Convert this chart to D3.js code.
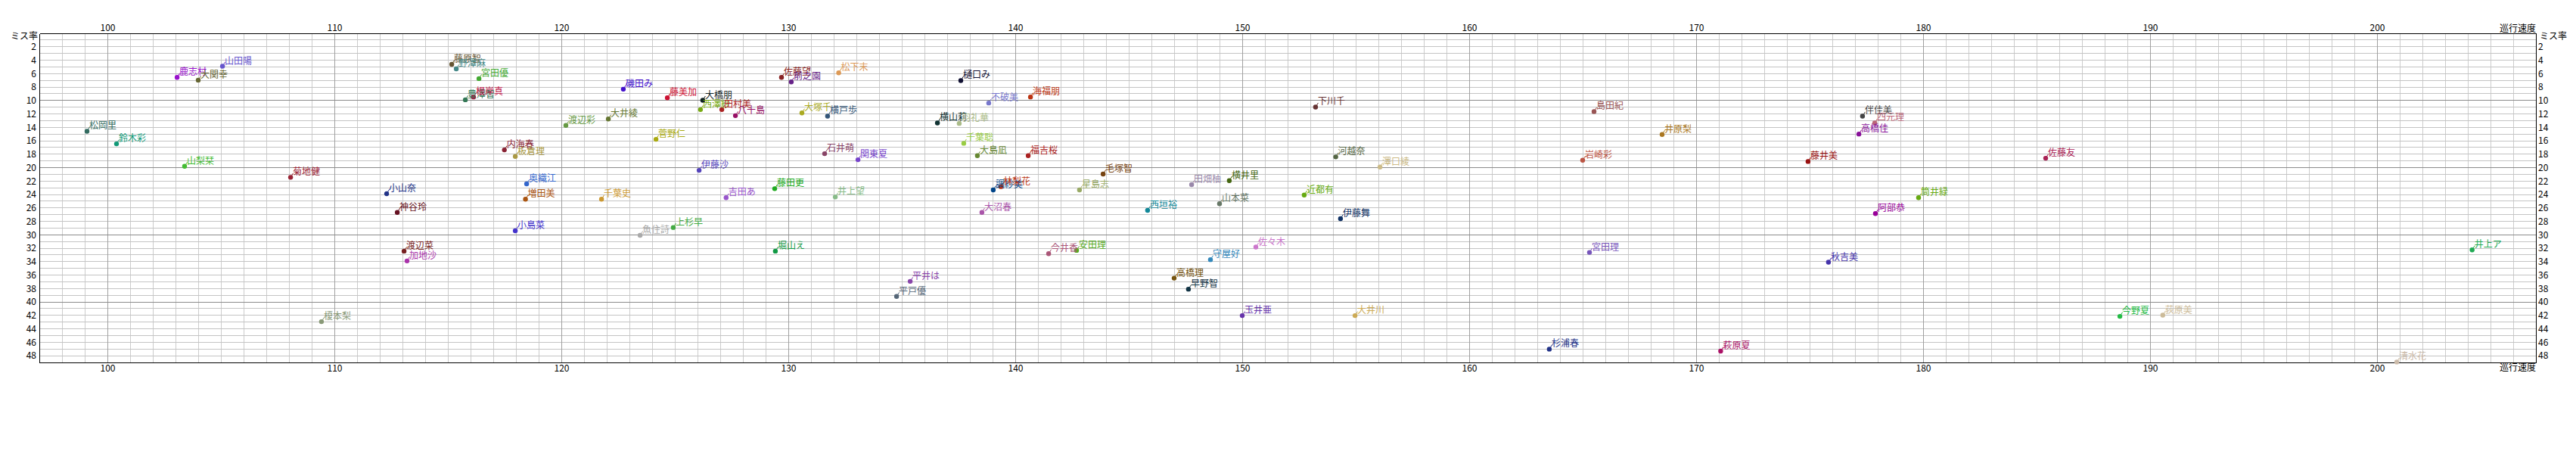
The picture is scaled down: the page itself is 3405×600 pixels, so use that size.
<!DOCTYPE html>
<html><head><meta charset="utf-8">
<script src="https://cdn.jsdelivr.net/npm/d3@7"></script>
<style>
body{margin:0;background:#fff}
text{font-family:"Noto Sans CJK JP","Noto Sans",sans-serif;font-size:12px}
</style>
</head><body>
<svg id="chart" width="3405" height="600"></svg>
<script>
const names = ["鹿志村","大関幸","松岡里","鈴木彩","山梨栞","山田陽","菊地健","小山奈","神谷玲","渡辺菜","加地沙","榎本梨",
"藤原智","野澤麻","宮田優","豊澤智","根岸真","磯田み","渡辺彩","大井綾","内海春","板倉理","奥織江","増田美","千葉史","小島菜","魚住詩",
"藤美加","大橋朋","西澤紗","田村美","八十島","佐藤望","前之園","松下末","大塚千","横戸歩","菅野仁","石井萌","関東夏","伊藤沙","藤田更","吉田あ","井上望","上杉早","堀山え",
"樋口み","海福朋","不破美","横山莉","羽礼華","千葉聡","大島凪","福吉桜","調紗美","林梨花","大沼春","今井香","安田理","平井は","平戸優",
"毛塚智","星島志","西垣裕","田畑柚","横井里","山本菜","佐々木","守屋好","高橋理","早野智","玉井亜",
"下川千","河越奈","澤口綾","近都有","伊藤舞","大井川",
"島田紀","井原梨","岩崎彩","宮田理","杉浦春",
"伴佳美","四元理","高橋佳","藤井美","筒井緑","阿部恭","秋吉美","萩原夏",
"佐藤友","今野夏","荻原美","井上ア","清水花"];
const speeds = [103.07,104.0,99.1,100.4,103.4,105.07,108.07,112.3,112.77,113.07,113.2,109.43,
115.17,115.37,116.37,115.77,116.13,122.73,120.2,122.07,117.49,117.97,118.47,118.42,121.77,117.97,123.47,
124.67,126.23,126.13,127.07,127.67,129.7,130.13,132.22,130.6,131.73,124.17,131.6,133.07,126.07,129.4,127.26,132.07,124.93,129.43,
137.6,140.67,138.83,136.57,137.53,137.73,138.33,140.57,139.03,139.37,138.53,141.47,142.7,135.37,134.77,
143.87,142.83,145.83,147.77,149.43,149.0,150.6,148.6,147.0,147.63,150.0,
153.23,154.12,156.07,152.73,154.33,154.97,
165.5,168.5,165.0,165.3,163.53,
177.33,177.87,177.17,174.93,179.8,177.9,175.83,171.08,
185.4,188.67,190.56,204.19,200.87];
const missRates = [6.56,6.97,14.58,16.46,19.8,4.9,21.44,23.88,26.66,32.43,33.89,42.93,
4.61,5.29,6.75,9.9,9.48,8.32,13.72,12.75,17.36,18.33,22.42,24.7,24.7,29.4,30.07,
9.6,9.97,11.36,11.36,12.26,6.56,7.23,5.88,11.85,12.33,15.78,17.92,18.82,20.4,23.13,24.48,24.37,28.91,32.43,
7.04,9.48,10.38,13.34,13.42,16.38,18.22,18.22,23.32,22.83,26.66,32.8,32.32,36.93,39.18,
20.96,23.32,26.36,22.53,21.93,25.38,31.83,33.7,36.45,38.09,42.03,
10.98,18.4,19.91,24.07,27.59,42.03,
11.65,15.07,18.9,32.62,47.02,
12.33,13.34,15.0,19.08,24.48,26.84,34.08,47.31,
18.6,42.14,41.96,32.24,48.93];
const xTicks = [100,110,120,130,140,150,160,170,180,190,200];
const yTicks = [2,4,6,8,10,12,14,16,18,20,22,24,26,28,30,32,34,36,38,40,42,44,46,48];
const xTitle = "巡行速度";
const yTitle = "ミス率";
const palette = ["#9911cc","#666633","#336b60","#119977","#44bb33","#6655cc","#992233","#223388","#661122","#772222","#aa33aa","#889977",
"#665533","#448888","#44aa33","#337755","#bb1144","#4411cc","#669944","#667733","#882233","#aa9944","#3366cc","#aa5511","#cc9933","#4433cc","#aaaaaa",
"#cc1133","#112222","#77aa11","#aa2222","#991166","#882222","#662288","#dd9955","#aaaa22","#335577","#aaaa11","#884466","#7744cc","#5544bb","#22aa22","#9955cc","#88bb88","#44aa44","#119944",
"#111133","#bb3311","#7777cc","#113333","#aabb88","#99cc44","#668833","#aa2222","#004488","#bb3311","#aa55aa","#aa5577","#55aa22","#8844aa","#556677",
"#774411","#99aa66","#118899","#9988aa","#446611","#667766","#cc77cc","#3388bb","#775511","#113344","#6633aa",
"#663333","#556644","#ccbb88","#66aa11","#113366","#ccaa55",
"#995555","#aa7722","#bb5544","#7755bb","#223388",
"#444444","#bb6677","#881199","#991111","#66aa11","#990099","#4433aa","#aa1166",
"#aa2255","#22bb44","#ccbb99","#22aa55","#ccbbaa"];

const svg = d3.select("#chart");
const L = 52, R = 3352, T = 44, B = 479;
const x = d3.scaleLinear().domain([97, 207]).range([L, R]);
const y = d3.scaleLinear().domain([0, 49]).range([T, B]);

const grid = svg.append("g").attr("shape-rendering", "crispEdges");
grid.selectAll(".vx").data(d3.range(98, 207)).join("line")
  .attr("x1", d => x(d)).attr("x2", d => x(d)).attr("y1", T).attr("y2", B)
  .attr("stroke", d => d % 10 === 0 ? "#a0a0a0" : "#cccccc").attr("stroke-width", 1);
grid.selectAll(".hy").data(d3.range(1, 49)).join("line")
  .attr("y1", d => y(d)).attr("y2", d => y(d)).attr("x1", L).attr("x2", R)
  .attr("stroke", d => d % 10 === 0 ? "#8c8c8c" : "#c4c4c4").attr("stroke-width", 1);
grid.selectAll(".mx").data(xTicks).join("line")
  .attr("x1", d => x(d)).attr("x2", d => x(d)).attr("y1", T).attr("y2", B)
  .attr("stroke", "#a0a0a0");
grid.selectAll(".my").data([10,20,30,40]).join("line")
  .attr("y1", d => y(d)).attr("y2", d => y(d)).attr("x1", L).attr("x2", R)
  .attr("stroke", "#8c8c8c");

const axTop = d3.axisTop(x).tickValues(xTicks).tickSize(0).tickPadding(3);
const axBot = d3.axisBottom(x).tickValues(xTicks).tickSize(0).tickPadding(3);
const axLeft = d3.axisLeft(y).tickValues(yTicks).tickSize(0).tickPadding(4);
const axRight = d3.axisRight(y).tickValues(yTicks).tickSize(0).tickPadding(3);
function style(g){ g.select(".domain").attr("stroke","#000").attr("shape-rendering","crispEdges");
  g.selectAll("text").attr("font-size",12).attr("fill","#000").attr("font-family",'"Noto Sans CJK JP",sans-serif'); }
svg.append("g").attr("transform",`translate(0,${T})`).call(axTop).call(style);
svg.append("g").attr("transform",`translate(0,${B})`).call(axBot).call(style);
svg.append("g").attr("transform",`translate(${L},0)`).call(axLeft).call(style);
svg.append("g").attr("transform",`translate(${R},0)`).call(axRight).call(style);

svg.append("text").attr("x", L-2).attr("y", T+8).attr("text-anchor","end").text(yTitle);
svg.append("text").attr("x", R+5).attr("y", T+8).attr("text-anchor","start").text(yTitle);
svg.append("text").attr("x", R).attr("y", T-2).attr("text-anchor","end").text(xTitle);
svg.append("text").attr("x", R).attr("y", B+11).attr("text-anchor","end").text(xTitle);

const data = names.map((n,i)=>({name:n, sx:speeds[i], my:missRates[i], c:palette[i]}));
const pts = svg.append("g");
pts.selectAll("line").data(data).join("line")
  .attr("x1", d => x(d.sx)).attr("y1", d => y(d.my))
  .attr("x2", d => x(d.sx)+3.5).attr("y2", d => y(d.my)-5.5)
  .attr("stroke", d => d.c).attr("stroke-width", 1);
pts.selectAll("circle").data(data).join("circle")
  .attr("cx", d => x(d.sx)).attr("cy", d => y(d.my)).attr("r", 3.2)
  .attr("fill", d => d.c);
pts.selectAll("text").data(data).join("text")
  .attr("x", d => x(d.sx)+3).attr("y", d => y(d.my)-3)
  .attr("fill", d => d.c).text(d => d.name);
</script>
</body></html>
